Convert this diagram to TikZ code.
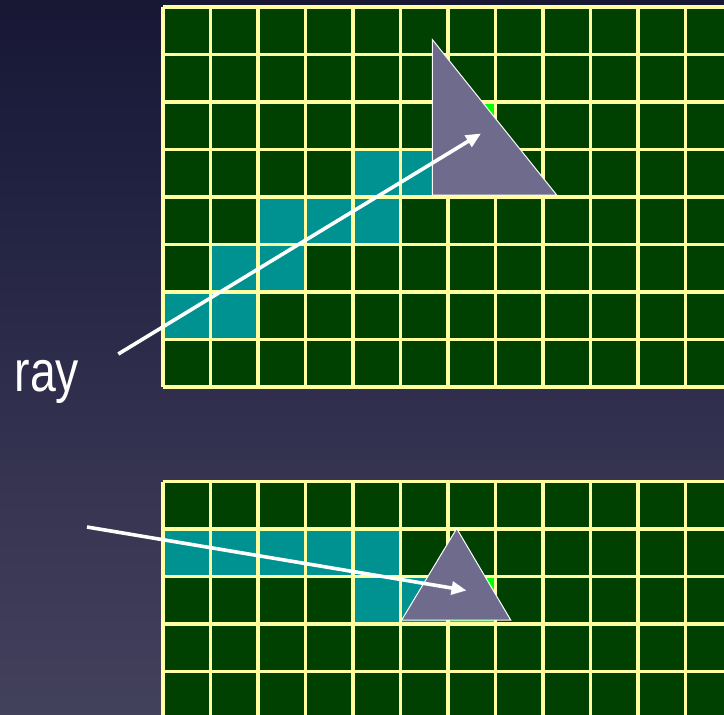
\documentclass[tikz,border=0pt]{standalone}
\usepackage{fontspec}
\setmainfont{Liberation Sans}
\usetikzlibrary{arrows.meta}
\definecolor{bgtop}{RGB}{8,8,30}
\definecolor{bgmid}{RGB}{30,30,62}
\definecolor{bglow}{RGB}{55,53,82}
\definecolor{bgbot}{RGB}{86,85,108}
\definecolor{cellgreen}{RGB}{0,64,0}
\definecolor{cellteal}{RGB}{0,145,145}
\definecolor{cellhit}{RGB}{0,255,0}
\definecolor{gridyellow}{RGB}{255,255,160}
\definecolor{trifill}{RGB}{111,107,140}
\pgfdeclareverticalshading{slidebg}{100bp}{color(0bp)=(bgbot); color(40bp)=(bglow); color(65bp)=(bgmid); color(100bp)=(bgtop)}
\tikzset{
  gridline/.style={draw=gridyellow, line width=3.4pt},
  tealcell/.style={fill=cellteal},
  hitcell/.style={fill=cellhit},
  tri/.style={fill=trifill, draw=white, line width=1pt, line join=miter},
  rayarrow/.style={draw=white, line width=3.6pt, -{Triangle[length=15pt, width=13pt]}},
  raylabel/.style={text=white, font=\fontsize{58}{60}\selectfont, inner sep=0pt, xscale=0.8}
}
\def\cs{47.5}
\begin{document}
\begin{tikzpicture}[x=1pt, y=-1pt]
\useasboundingbox (0,0) rectangle (724,715);
\shade[shading=slidebg] (0,0) rectangle (724,715);
\begin{scope}
\clip (0,0) rectangle (724,715);
% ---------- top grid ----------
\begin{scope}[shift={(163,7)}]
  \fill[cellgreen] (0,0) rectangle (12*\cs, 8*\cs);
  \foreach \r/\c in {3/4,3/5,4/2,4/3,4/4,5/1,5/2,6/0,6/1}
    \fill[tealcell] (\c*\cs, \r*\cs) rectangle ++(\cs,\cs);
  \fill[hitcell] (6*\cs, 2*\cs) rectangle ++(\cs,\cs);
  \foreach \i in {0,...,12}
    \draw[gridline] (\i*\cs, 0) -- (\i*\cs, 8*\cs);
  \foreach \j in {0,...,8}
    \draw[gridline] (0, \j*\cs) -- (12*\cs, \j*\cs);
\end{scope}
% ---------- bottom grid ----------
\begin{scope}[shift={(163,481.5)}]
  \fill[cellgreen] (0,0) rectangle (12*\cs, 6*\cs);
  \foreach \r/\c in {1/0,1/1,1/2,1/3,1/4,2/4,2/5}
    \fill[tealcell] (\c*\cs, \r*\cs) rectangle ++(\cs,\cs);
  \fill[hitcell] (6*\cs, 2*\cs) rectangle ++(\cs,\cs);
  \foreach \i in {0,...,12}
    \draw[gridline] (\i*\cs, 0) -- (\i*\cs, 6*\cs);
  \foreach \j in {0,...,6}
    \draw[gridline] (0, \j*\cs) -- (12*\cs, \j*\cs);
\end{scope}
% ---------- triangles ----------
\draw[tri] (432.3,39.5) -- (432.3,195) -- (556.7,195) -- cycle;
\draw[tri] (456.7,528.5) -- (401.7,620) -- (510.7,620) -- cycle;
% ---------- rays ----------
\coordinate (rayAstart) at (118.3,354);
\coordinate (rayAend) at (481,133.5);
\coordinate (rayBstart) at (87,527);
\coordinate (rayBend) at (466.5,590.5);
\draw[rayarrow] (rayAstart) -- (rayAend);
\draw[rayarrow] (rayBstart) -- (rayBend);
\end{scope}
\node[raylabel, anchor=base west] (raytext) at (14.5,391.7) {ray};
\end{tikzpicture}
\end{document}
